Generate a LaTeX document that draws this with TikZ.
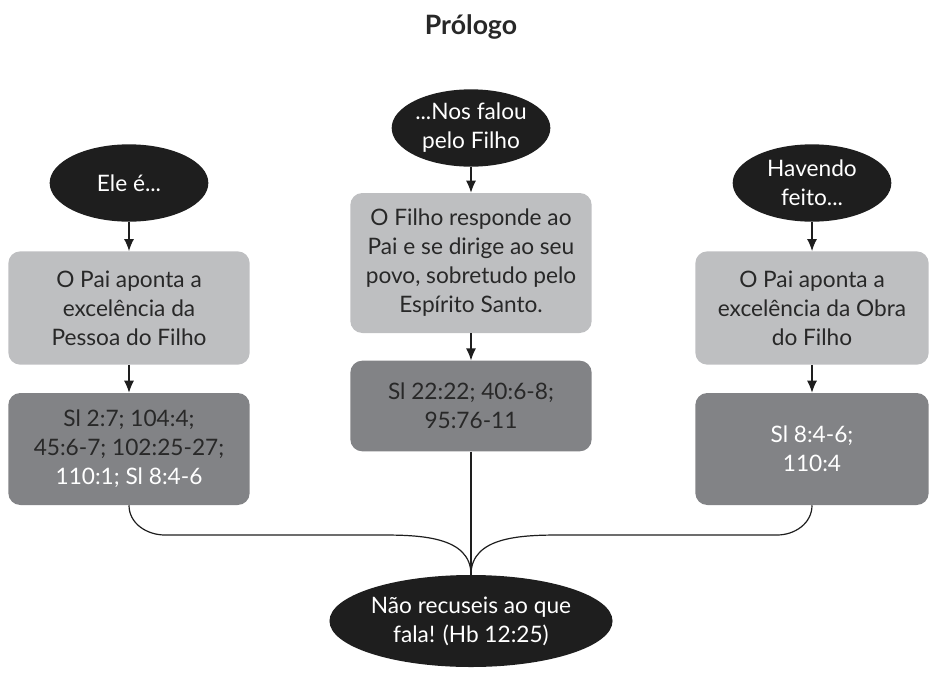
\documentclass[tikz,border=0pt]{standalone}
\usepackage{fontspec}
\setmainfont{Lato}
\usetikzlibrary{positioning,arrows.meta,shapes.geometric}
\definecolor{colorbubble}{RGB}{30,30,30}
\definecolor{colorlight}{RGB}{190,191,193}
\definecolor{colordark}{RGB}{130,131,134}
\definecolor{colortext}{RGB}{40,40,40}

\begin{document}
\begin{tikzpicture}[
    x=0.75pt, y=-0.75pt,
    font={\fontsize{17}{21.75}\selectfont},
    title/.style={text=colortext,font={\fontsize{20}{24}\selectfont\bfseries}},
    bubble/.style={ellipse,fill=colorbubble,text=white,align=center,inner sep=0pt,minimum width=119pt,minimum height=58pt},
    lightbox/.style={rectangle,rounded corners=9pt,fill=colorlight,text=colortext,align=center,minimum width=181pt},
    darkbox/.style={lightbox,fill=colordark},
    flow/.style={-{Latex[length=9pt,width=7.5pt]},line width=0.9pt,colorbubble},
    link/.style={line width=0.9pt,colorbubble},
]

    \useasboundingbox (0,0) rectangle (930,674);
    \node[title] (title) at (471,27) {Prólogo};

    % left column
    \node[bubble] (e1) at (129,183) {Ele é...};
    \node[lightbox,minimum height=85pt] (p1) at (129,308) {O Pai aponta a\\
    excelência da\\
    Pessoa do Filho};
    \node[darkbox,minimum height=84pt] (r1) at (129,449) {Sl 2:7; 104:4;\\
    45:6-7; 102:25-27;\\
    \textcolor{white}{110:1; Sl 8:4-6}};

    % middle column
    \node[bubble] (e2) at (471,128) {...Nos falou\\pelo Filho};
    \node[lightbox,minimum height=105pt] (p2) at (471,263) {O Filho responde ao\\
    Pai e se dirige ao seu\\
    povo, sobretudo pelo\\
    Espírito Santo.};
    \node[darkbox,minimum height=68pt] (r2) at (471,406) {Sl 22:22; 40:6-8;\\
    95:76-11};

    % right column
    \node[bubble] (e3) at (812,183) {Havendo\\feito...};
    \node[lightbox,minimum width=175pt,minimum height=85pt] (p3) at (812,308) {O Pai aponta a\\
    excelência da Obra\\
    do Filho};
    \node[darkbox,minimum width=175pt,minimum height=84pt] (r3) at (812,449) {\textcolor{white}{Sl 8:4-6;}\\
    \textcolor{white}{110:4}};

    \node[bubble,minimum width=186pt,minimum height=69pt] (e4) at (471,621) {Não recuseis ao que\\
    fala! (Hb 12:25)};

    \draw[flow] (e1.south) -- (p1.north);
    \draw[flow] (p1.south) -- (r1.north);
    \draw[flow] (e2.south) -- (p2.north);
    \draw[flow] (p2.south) -- (r2.north);
    \draw[flow] (e3.south) -- (p3.north);
    \draw[flow] (p3.south) -- (r3.north);

    \draw[link] (r1.south) to[out=-90,in=180] (165,535) -- (380,535) to[out=0,in=90] (e4.north);
    \draw[link] (r3.south) to[out=-90,in=0] (777,535) -- (562,535) to[out=180,in=90] (e4.north);
    \draw[link] (r2.south) -- (e4.north);

\end{tikzpicture}
\end{document}
